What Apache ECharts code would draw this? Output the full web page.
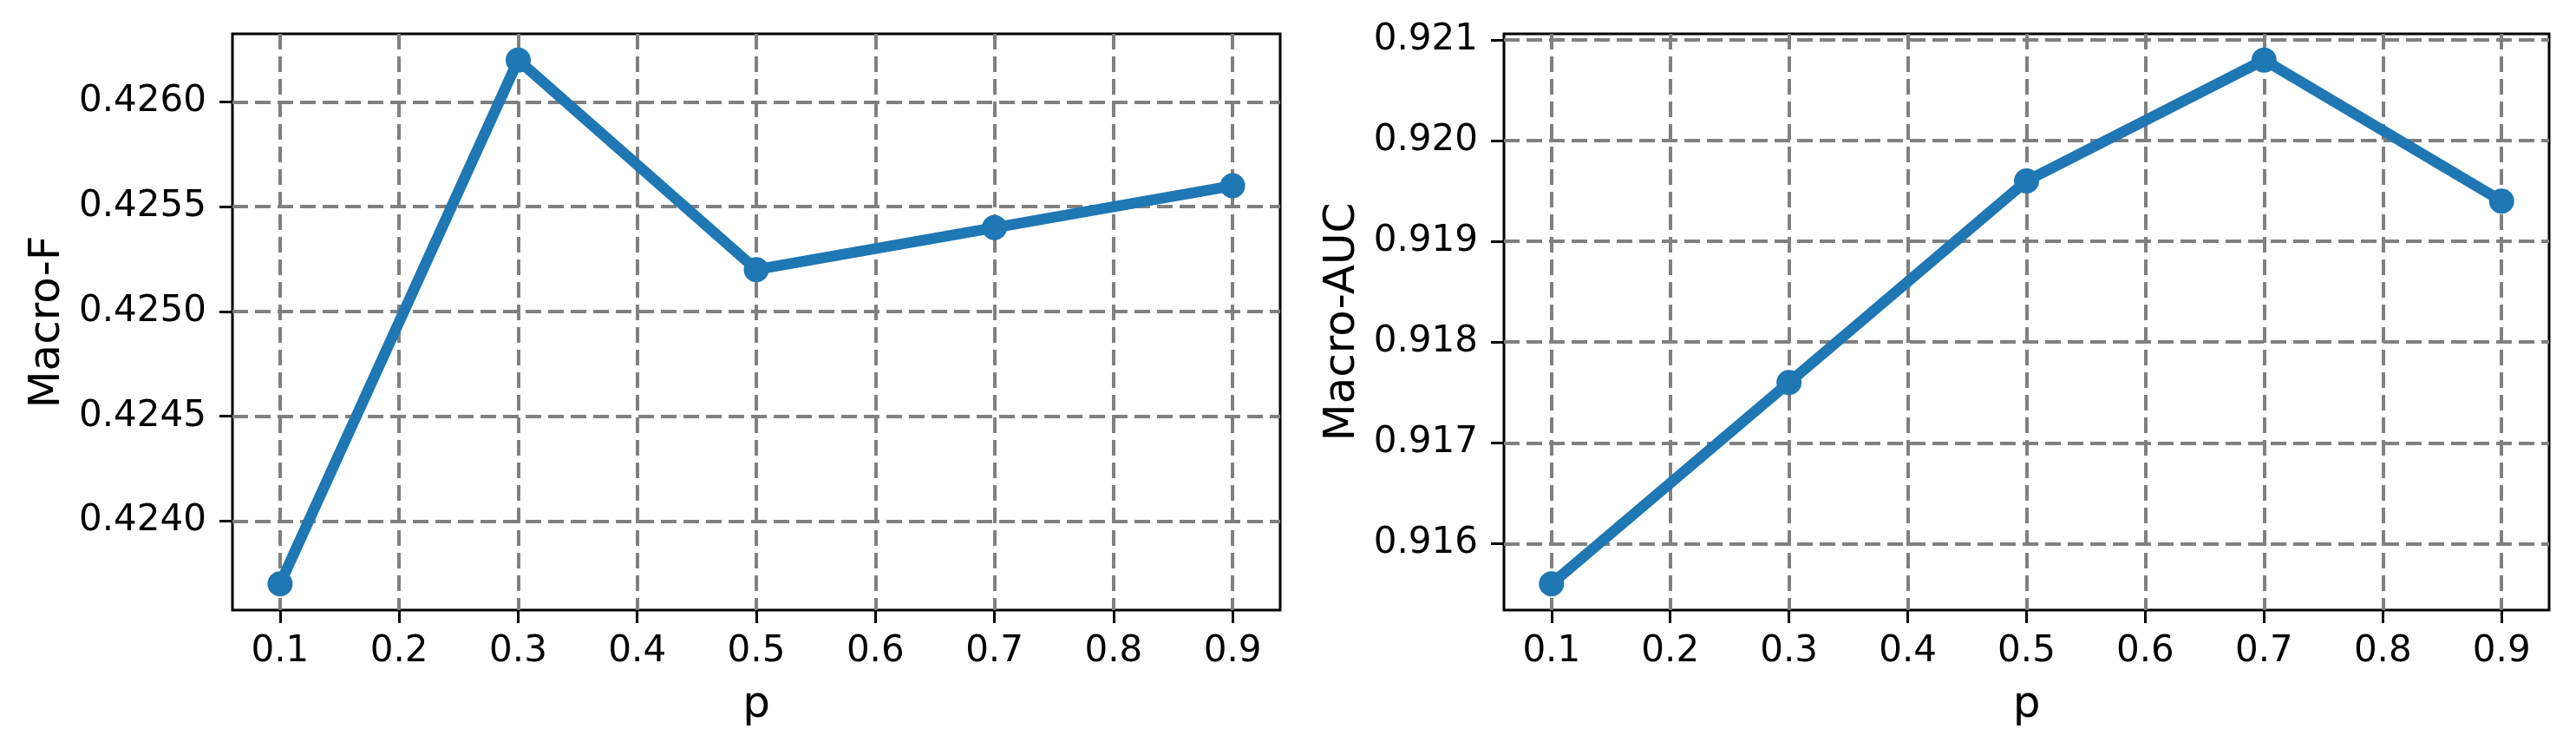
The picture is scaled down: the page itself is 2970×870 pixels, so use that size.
<!DOCTYPE html>
<html>
<head>
<meta charset="utf-8">
<script src="https://cdn.jsdelivr.net/npm/echarts@6/dist/echarts.min.js"></script>
<style>
  html, body { margin: 0; padding: 0; background: #fff; }
  #chart { width: 2970px; height: 870px; }
</style>
</head>
<body>
<div id="chart"></div>
<script>
// data
const pValues = [0.1, 0.3, 0.5, 0.7, 0.9];
const macroF = [0.4237, 0.4262, 0.4252, 0.4254, 0.4256];
const macroAUC = [0.9156, 0.9176, 0.9196, 0.9208, 0.9194];

// tick labels
const xTicks = [0.1, 0.2, 0.3, 0.4, 0.5, 0.6, 0.7, 0.8, 0.9];
const fTicks = [0.4240, 0.4245, 0.4250, 0.4255, 0.4260];
const aucTicks = [0.916, 0.917, 0.918, 0.919, 0.920, 0.921];

const myChart = echarts.init(document.getElementById('chart'), null, { renderer: 'canvas' });

const font = 'DejaVu Sans';
const blue = '#1f77b4';

// shared look for the dashed grey grid
const splitLine = {
  show: true,
  lineStyle: { color: '#808080', width: 4, type: [18, 8] }
};
const axisTick = (vals) => ({
  show: true,
  inside: false,
  length: 15,
  customValues: vals,
  lineStyle: { color: '#000', width: 3 }
});

function xAxis(gridIndex) {
  return {
    type: 'value',
    gridIndex: gridIndex,
    min: 0.06,
    max: 0.94,
    name: 'p',
    nameLocation: 'middle',
    nameGap: 85,
    nameTextStyle: { fontFamily: font, fontSize: 50, color: '#000' },
    axisLine: { show: false },
    axisTick: axisTick(xTicks),
    axisLabel: {
      customValues: xTicks,
      margin: 27,
      fontFamily: font,
      fontSize: 42,
      color: '#000',
      formatter: (v) => v.toFixed(1)
    },
    splitLine: splitLine
  };
}

function yAxis(gridIndex, name, min, max, ticks, digits, gap) {
  return {
    type: 'value',
    gridIndex: gridIndex,
    min: min,
    max: max,
    name: name,
    nameLocation: 'middle',
    nameRotate: 90,
    nameGap: gap,
    nameTextStyle: { fontFamily: font, fontSize: 50, color: '#000' },
    axisLine: { show: false },
    axisTick: axisTick(ticks),
    axisLabel: {
      customValues: ticks,
      margin: 30,
      fontFamily: font,
      fontSize: 42,
      color: '#000',
      formatter: (v) => v.toFixed(digits)
    },
    splitLine: splitLine
  };
}

function lineSeries(idx, values) {
  return {
    type: 'line',
    xAxisIndex: idx,
    yAxisIndex: idx,
    data: pValues.map((p, i) => [p, values[i]]),
    symbol: 'circle',
    symbolSize: 29,
    lineStyle: { color: blue, width: 12.5 },
    itemStyle: { color: blue },
    z: 2
  };
}

const option = {
  animation: false,
  backgroundColor: '#fff',
  grid: [
    { left: 268, right: 1494, top: 39, bottom: 167, show: true, borderColor: '#000', borderWidth: 3, backgroundColor: 'transparent', outerBoundsMode: 'none' },
    { left: 1734, right: 31, top: 39, bottom: 167, show: true, borderColor: '#000', borderWidth: 3, backgroundColor: 'transparent', outerBoundsMode: 'none' }
  ],
  xAxis: [xAxis(0), xAxis(1)],
  yAxis: [
    yAxis(0, 'Macro-F', 0.423575, 0.426325, fTicks, 4, 188),
    yAxis(1, 'Macro-AUC', 0.91534, 0.92106, aucTicks, 3, 161)
  ],
  series: [lineSeries(0, macroF), lineSeries(1, macroAUC)]
};
myChart.setOption(option);
</script>
</body>
</html>
